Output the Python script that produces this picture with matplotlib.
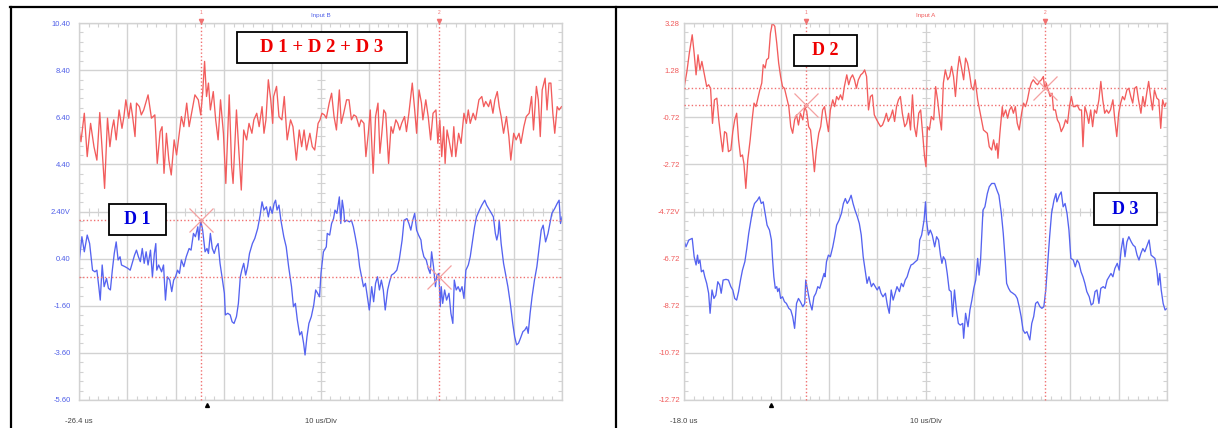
import numpy as np
import matplotlib
matplotlib.use('Agg')
import matplotlib.pyplot as plt
from matplotlib.patches import Rectangle
from matplotlib.lines import Line2D

W, H = 1218, 428

# ---------------- data (time in us, value in V) ----------------
# Left panel: Input B
sum_trace = [(-26.4,5.93),(-26.0,5.36),(-25.3,6.57),(-24.7,4.73),(-24.0,6.14),(-23.3,5.15),(-22.7,4.58),(-22.1,6.6),
    (-21.1,3.38),(-20.5,6.36),(-20.0,5.15),(-19.6,5.86),(-19.2,6.29),(-18.7,5.44),(-18.1,6.71),(-17.5,5.93),(-17.1,6.43),
    (-16.7,7.14),(-16.1,6.36),(-15.7,7.0),(-15.3,6.43),(-14.8,5.58),(-14.5,7.0),(-13.9,6.85),(-13.5,6.5),(-13.0,6.71),
    (-12.1,7.35),(-11.4,6.36),(-10.7,6.5),(-10.2,4.44),(-9.6,5.79),(-9.2,6.0),(-8.8,4.02),(-8.3,5.72),(-7.8,4.58),
    (-7.3,3.95),(-6.7,5.44),(-6.2,4.8),(-5.2,6.43),(-4.7,6.0),(-4.1,7.0),(-3.6,6.0),(-3.1,6.57),(-2.4,7.35),(-1.7,7.14),
    (-1.2,6.5),(-0.8,7.42),(-0.4,8.77),(0.0,7.28),(0.4,7.85),(0.8,6.71),(1.4,7.49),(1.9,6.29),(2.4,5.44),(2.9,7.14),
    (3.5,5.72),(4.0,3.59),(4.7,7.35),(5.2,4.3),(5.5,3.59),(6.2,6.71),(6.6,5.29),(7.2,3.31),(7.7,5.86),(8.3,5.44),
    (8.8,6.14),(9.4,5.72),(9.8,6.29),(10.4,6.57),(10.9,6.0),(11.5,6.85),(11.9,5.72),(12.3,6.29),(12.8,7.99),(13.3,7.14),
    (13.7,6.14),(13.9,7.28),(14.5,7.71),(15.0,6.43),(15.6,6.29),(16.1,7.28),(16.7,5.44),(17.4,6.29),(17.9,6.0),
    (18.6,4.58),(19.2,5.86),(19.7,5.15),(20.2,5.86),(20.7,5.01),(21.4,5.72),(21.9,5.15),(22.4,5.01),(23.1,6.14),
    (23.5,6.29),(23.9,6.57),(24.4,6.5),(24.8,6.36),(25.4,7.0),(25.9,7.42),(26.4,6.43),(26.9,5.86),(27.5,7.56),
    (27.9,6.14),(28.4,6.57),(29.0,7.14),(29.5,7.14),(30.0,6.29),(30.5,6.5),(31.0,6.43),(31.6,6.0),(32.0,6.29),
    (32.6,6.14),(33.0,4.73),(33.5,5.72),(33.9,6.71),(34.5,4.02),(35.0,6.43),(35.5,7.0),(35.9,4.87),(36.3,5.72),
    (36.7,6.71),(37.1,6.57),(37.7,4.44),(38.2,6.0),(38.6,5.72),(39.2,6.29),(39.6,6.14),(40.0,5.86),(40.4,6.14),
    (41.0,6.43),(41.4,5.79),(41.9,6.57),(42.6,7.85),(43.1,6.71),(43.5,5.72),(44.0,7.56),(44.5,7.0),(44.8,6.29),
    (45.4,7.14),(45.9,6.43),(46.4,5.44),(46.9,6.57),(47.5,6.71),(47.9,5.29),(48.3,6.29),(48.7,4.73),(49.1,6.0),
    (49.4,4.44),(49.8,5.86),(50.2,5.44),(50.8,4.73),(51.2,6.0),(51.6,4.73),(52.2,5.72),(52.7,5.29),(53.3,6.57),
    (53.8,6.14),(54.2,6.71),(54.6,6.14),(55.2,6.57),(55.7,6.29),(56.4,7.14),(57.0,7.28),(57.4,6.85),(57.8,7.07),
    (58.4,6.85),(58.8,7.14),(59.3,6.57),(59.7,7.14),(60.2,7.49),(60.6,6.85),(61.0,6.43),(61.5,5.72),(62.1,6.43),
    (62.6,5.58),(63.0,4.58),(63.6,5.72),(64.1,5.44),(64.7,5.72),(65.1,5.29),(65.7,6.0),(66.2,6.43),(66.8,6.57),
    (67.3,7.28),(67.7,5.86),(68.3,7.71),(68.7,7.14),(69.1,5.58),(69.5,7.56),(70.1,8.06),(70.5,6.71),(70.9,7.85),
    (71.3,7.85),(71.7,6.57),(72.1,5.72),(72.6,6.85),(73.0,6.71),(73.5,6.85)]

d1_trace = [(-26.4,0.20),(-25.8,1.33),(-25.3,0.69),(-24.7,1.40),(-24.2,1.04),(-23.6,-0.09),(-23.1,-0.16),(-22.7,-0.09),
    (-22.3,-0.79),(-22.0,-1.36),(-21.6,0.13),(-21.2,-0.79),(-20.7,-0.44),(-20.3,-0.86),(-19.9,-0.93),(-19.5,-0.09),
    (-19.1,0.62),(-18.7,1.11),(-18.3,0.34),(-17.9,0.48),(-17.6,0.13),(-16.9,0.06),(-16.3,-0.01),(-15.8,-0.09),
    (-15.4,0.20),(-14.9,0.55),(-14.5,0.76),(-14.1,0.48),(-13.7,0.27),(-13.3,0.83),(-12.9,0.20),(-12.5,0.69),
    (-12.1,0.13),(-11.6,0.76),(-11.2,-0.37),(-10.8,0.62),(-10.5,1.04),(-10.3,-0.09),(-9.9,0.13),(-9.3,-0.16),
    (-8.9,0.13),(-8.5,-1.36),(-8.1,-0.37),(-7.6,-0.51),(-7.2,-1.0),(-6.8,-0.51),(-6.4,-0.37),(-6.0,-0.09),
    (-5.6,-0.23),(-5.2,0.34),(-4.7,0.06),(-4.2,0.48),(-3.6,0.83),(-3.2,0.76),(-2.7,1.47),(-2.3,1.33),(-1.8,1.75),
    (-1.6,1.19),(-1.2,2.03),(-0.8,1.61),(-0.3,0.69),(0.1,0.83),(0.4,0.62),(0.8,1.47),(1.2,0.83),(1.6,0.62),
    (2.0,0.90),(2.4,1.04),(2.8,0.20),(3.3,-0.51),(3.7,-1.07),(3.9,-1.99),(4.4,-1.92),(4.9,-1.99),(5.3,-2.28),
    (5.7,-2.35),(6.2,-2.06),(6.6,-1.50),(7.0,-0.37),(7.3,-0.09),(7.7,0.20),(8.1,-0.30),(8.5,0.06),(8.9,0.62),
    (9.5,1.04),(10.0,1.26),(10.6,1.68),(11.1,2.24),(11.5,2.81),(11.9,2.46),(12.4,2.60),(12.8,2.17),(13.2,2.60),
    (13.6,2.32),(14.0,2.74),(14.3,2.88),(14.6,2.46),(15.0,2.67),(15.4,2.03),(16.0,1.33),(16.5,0.90),(17.0,0.06),
    (17.6,-0.79),(18.0,-1.64),(18.4,-1.50),(18.8,-2.20),(19.3,-2.84),(19.7,-2.70),(20.1,-3.19),(20.4,-3.69),
    (20.8,-2.91),(21.2,-2.35),(21.7,-2.06),(22.2,-1.57),(22.6,-0.93),(23.0,-1.07),(23.4,-1.22),(23.7,-0.23),
    (24.2,0.69),(24.8,0.90),(25.0,1.47),(25.5,1.40),(25.9,1.89),(26.3,2.10),(26.6,2.46),(27.0,2.32),(27.3,2.74),
    (27.5,3.02),(27.8,1.89),(28.1,2.88),(28.4,2.46),(28.6,1.96),(29.0,2.03),(29.6,1.96),(30.0,2.03),(30.4,1.75),
    (30.8,1.33),(31.3,0.76),(31.7,0.06),(32.1,-0.37),(32.5,-0.79),(32.9,-0.65),(33.3,-1.22),(33.7,-1.78),
    (34.2,-0.79),(34.6,-1.43),(35.0,-0.65),(35.4,-0.37),(35.8,-0.93),(36.2,-0.51),(36.6,-0.93),(37.0,-1.78),
    (37.5,-0.93),(37.9,-0.58),(38.3,-0.30),(38.8,-0.23),(39.4,-0.09),(39.9,0.34),(40.5,1.19),(40.9,2.03),
    (41.5,2.10),(41.9,1.89),(42.3,1.61),(42.7,2.03),(43.1,2.32),(43.5,1.61),(43.9,1.40),(44.4,1.19),(44.6,0.83),
    (45.0,0.48),(45.5,0.34),(45.9,-0.01),(46.3,-0.23),(46.6,0.69),(47.0,0.06),(47.4,-0.79),(47.7,-0.30),
    (48.1,-0.23),(48.4,-1.64),(48.6,-0.79),(48.9,-1.50),(49.3,-0.93),(49.7,-1.36),(50.2,-1.07),(50.6,-1.92),
    (51.0,-2.35),(51.3,-0.51),(51.7,-0.93),(52.1,-0.79),(52.5,-1.00),(52.9,-0.79),(53.3,-1.29),(53.7,-0.09),
    (54.2,0.13),(54.6,0.48),(55.1,1.19),(55.5,1.75),(55.9,2.17),(56.5,2.46),(57.0,2.67),(57.6,2.88),(58.0,2.67),
    (58.4,2.53),(59.0,2.32),(59.4,2.17),(59.8,1.47),(60.1,1.19),(60.4,1.47),(60.6,2.03),(61.0,1.04),(61.5,0.20),
    (61.9,-0.23),(62.4,-0.79),(62.9,-1.50),(63.4,-2.35),(63.8,-2.91),(64.2,-3.26),(64.6,-3.19),(65.0,-2.98),
    (65.5,-2.70),(65.9,-2.63),(66.3,-2.49),(66.6,-2.77),(67.0,-1.92),(67.4,-1.22),(67.9,-0.51),(68.4,0.06),
    (68.8,0.76),(69.3,1.61),(69.7,1.82),(70.2,1.11),(70.7,1.47),(71.1,1.89),(71.5,2.32),(72.1,2.53),(72.6,2.74),
    (73.0,2.88),(73.3,1.89),(73.6,2.17)]

# Right panel: Input A
d2_trace = [(-18.0,0.51),(-17.4,1.22),(-16.9,2.0),(-16.3,2.78),(-15.9,2.0),(-15.5,1.08),(-15.1,1.93),(-14.7,1.29),
    (-14.3,1.65),(-13.9,1.22),(-13.3,0.58),(-12.9,0.66),(-12.5,0.51),(-12.1,-0.98),(-11.7,0.02),(-11.2,0.09),
    (-10.8,-0.83),(-10.4,-1.54),(-10.0,-2.18),(-9.6,-1.33),(-9.2,-1.40),(-8.8,-2.18),(-8.3,-2.11),(-7.9,-1.33),
    (-7.5,-0.83),(-7.1,-0.55),(-6.7,-1.68),(-6.3,-2.39),(-5.9,-2.32),(-5.6,-2.68),(-5.2,-3.74),(-4.8,-2.54),
    (-4.3,-1.68),(-3.9,-0.83),(-3.5,-0.12),(-3.1,-0.27),(-2.7,0.09),(-2.3,0.44),(-1.9,0.73),(-1.6,1.51),(-1.2,1.37),
    (-0.9,1.72),(-0.5,1.79),(-0.1,2.85),(0.3,3.28),(0.8,3.14),(1.2,2.43),(1.6,1.58),(2.0,1.01),(2.4,0.58),(2.8,0.51),
    (3.2,0.16),(3.7,-0.27),(4.1,-1.12),(4.5,-1.40),(4.9,-0.83),(5.3,-0.62),(5.7,-1.05),(6.1,-0.55),(6.6,-0.83),
    (7.0,-0.27),(7.4,-0.48),(7.8,-1.12),(8.2,-1.26),(8.6,-2.11),(9.0,-3.03),(9.4,-2.11),(9.9,-1.40),(10.3,-1.12),
    (10.7,-0.41),(11.1,-0.27),(11.5,-0.83),(11.9,-1.33),(12.3,-0.41),(12.8,0.02),(13.2,-0.27),(13.6,0.16),
    (14.0,0.02),(14.4,0.23),(14.8,0.02),(15.2,0.58),(15.7,1.08),(16.1,0.66),(16.5,0.94),(16.9,1.08),(17.3,0.87),
    (17.7,0.51),(18.1,0.87),(18.6,1.08),(19.0,1.15),(19.4,1.29),(19.8,1.01),(20.2,-0.41),(20.6,0.16),(21.0,0.23),
    (21.4,-0.62),(21.9,-0.83),(22.3,-0.98),(22.7,-1.12),(23.1,-1.05),(23.5,-0.83),(23.9,-0.55),(24.3,-0.90),
    (24.8,-0.69),(25.2,-0.41),(25.6,-0.90),(26.0,-0.27),(26.4,0.02),(26.8,0.16),(27.2,-0.55),(27.7,-1.12),
    (28.1,-0.98),(28.5,-0.55),(28.9,-1.26),(29.3,0.23),(29.7,-1.12),(30.1,-1.54),(30.6,-0.55),(31.0,-0.41),
    (31.4,-1.40),(31.8,-2.39),(32.1,-2.82),(32.4,-1.12),(32.8,-1.26),(33.2,-0.69),(33.7,-0.83),(34.1,0.58),
    (34.5,0.02),(34.9,-0.69),(35.3,-1.26),(35.7,0.73),(36.1,1.29),(36.6,0.87),(37.0,1.01),(37.4,1.44),(37.8,1.01),
    (38.2,0.16),(38.6,1.22),(39.0,1.86),(39.4,1.44),(39.9,0.87),(40.3,1.79),(40.7,1.58),(41.1,1.15),(41.5,0.58),
    (41.9,0.44),(42.3,0.87),(42.8,0.02),(43.2,-0.41),(43.6,-0.83),(44.0,-1.26),(44.4,-1.33),(44.8,-1.40),
    (45.2,-1.97),(45.7,-2.11),(46.1,-1.68),(46.5,-2.11),(46.8,-1.83),(47.0,-2.46),(47.4,-1.40),(47.9,-0.27),
    (48.1,-0.69),(48.6,-0.41),(49.0,-0.76),(49.4,-0.41),(49.8,-0.27),(50.2,-0.55),(50.6,-0.27),(51.0,-0.98),
    (51.4,-1.26),(51.9,-0.55),(52.3,-0.12),(52.7,-0.27),(53.1,0.02),(53.5,0.44),(53.9,0.73),(54.3,0.87),
    (54.8,0.73),(55.2,0.66),(55.6,0.80),(56.0,0.87),(56.4,1.01),(56.7,0.44),(57.0,0.73),(57.4,0.44),(57.8,0.16),
    (58.2,0.30),(58.5,-0.41),(58.9,-0.41),(59.3,-0.83),(59.7,-0.98),(60.1,-1.33),(60.6,-1.12),(61.0,-0.83),
    (61.4,-0.98),(61.8,-0.27),(62.2,0.16),(62.6,-0.27),(63.0,-0.27),(63.4,-0.20),(63.9,-0.41),(64.3,-0.41),
    (64.6,-1.97),(65.0,-0.27),(65.4,-0.55),(65.8,-0.98),(66.2,-0.41),(66.6,-1.12),(67.0,-0.41),(67.4,-0.55),
    (67.9,0.02),(68.3,0.80),(68.7,0.02),(69.1,-0.55),(69.5,-0.41),(69.9,-0.55),(70.3,-0.41),(70.8,0.02),
    (71.2,-0.83),(71.6,-1.54),(72.0,-0.55),(72.4,-0.12),(72.8,0.16),(73.2,0.02),(73.7,0.44),(74.1,0.51),
    (74.5,0.16),(74.9,-0.12),(75.3,0.51),(75.7,0.58),(76.1,0.02),(76.6,-0.55),(77.0,0.16),(77.4,-0.27),
    (77.8,0.30),(78.2,0.80),(78.6,0.16),(79.0,-0.41),(79.4,0.44),(79.9,0.09),(80.3,0.02),(80.7,-1.19),
    (81.1,0.02),(81.5,-0.27),(81.8,-0.12)]

d3_trace = [(-18.0,-5.93),(-17.6,-6.22),(-17.0,-5.93),(-16.3,-5.86),(-15.9,-6.64),(-15.5,-6.99),(-15.2,-6.57),
    (-15.0,-6.92),(-14.7,-6.78),(-14.4,-7.28),(-14.0,-7.21),(-13.7,-7.49),(-13.3,-7.77),(-12.9,-8.19),(-12.6,-9.04),
    (-12.2,-8.05),(-11.8,-8.41),(-11.4,-8.27),(-11.0,-7.70),(-10.6,-7.84),(-10.3,-8.19),(-9.9,-7.63),(-9.3,-7.60),
    (-8.8,-7.63),(-8.3,-7.91),(-7.9,-8.05),(-7.5,-8.41),(-7.1,-8.48),(-6.7,-8.12),(-6.3,-7.63),(-5.9,-7.21),
    (-5.4,-6.85),(-5.0,-6.29),(-4.6,-5.65),(-4.2,-5.16),(-3.8,-4.66),(-3.4,-4.38),(-2.8,-4.24),(-2.4,-4.10),
    (-2.0,-4.38),(-1.6,-4.31),(-1.2,-4.80),(-0.8,-5.30),(-0.3,-5.51),(0.1,-5.93),(0.3,-6.64),(0.6,-7.49),
    (0.9,-7.98),(1.2,-7.91),(1.4,-8.12),(1.7,-7.98),(2.0,-8.41),(2.4,-8.34),(2.8,-8.55),(3.2,-8.62),(3.7,-8.83),
    (4.1,-8.90),(4.5,-9.18),(4.9,-9.68),(5.3,-8.62),(5.7,-8.41),(6.1,-8.55),(6.6,-8.76),(7.0,-8.62),(7.2,-7.63),
    (7.7,-8.19),(8.1,-8.62),(8.5,-8.90),(8.9,-8.34),(9.3,-8.19),(9.7,-7.91),(10.1,-7.98),(10.6,-7.63),(11.0,-7.35),
    (11.2,-7.49),(11.5,-6.85),(11.9,-6.57),(12.3,-6.64),(12.8,-6.22),(13.2,-5.79),(13.6,-5.30),(14.1,-5.09),
    (14.6,-4.80),(15.0,-4.38),(15.4,-4.17),(15.8,-4.38),(16.2,-4.24),(16.6,-4.03),(17.0,-4.38),(17.4,-4.66),
    (17.9,-4.95),(18.3,-5.23),(18.7,-5.72),(19.1,-6.64),(19.5,-7.21),(19.9,-7.77),(20.3,-7.49),(20.8,-7.91),
    (21.2,-7.77),(21.6,-7.91),(22.0,-8.05),(22.4,-7.91),(22.8,-8.19),(23.2,-8.34),(23.7,-8.19),(24.1,-8.69),
    (24.5,-9.04),(24.9,-8.05),(25.3,-8.48),(25.7,-8.19),(26.1,-7.91),(26.6,-8.12),(27.0,-7.77),(27.4,-7.91),
    (27.8,-7.63),(28.2,-7.49),(28.6,-7.21),(29.0,-6.99),(29.4,-6.95),(29.9,-6.85),(30.3,-6.78),(30.6,-6.50),
    (30.8,-5.93),(31.2,-5.72),(31.7,-5.09),(32.0,-4.31),(32.2,-5.09),(32.6,-5.72),(33.0,-5.51),(33.4,-5.72),
    (33.9,-6.22),(34.3,-5.79),(34.7,-5.93),(35.1,-6.57),(35.4,-6.92),(35.7,-6.64),(36.1,-6.78),(36.5,-7.35),
    (36.9,-8.05),(37.3,-8.12),(37.6,-9.18),(38.0,-8.05),(38.4,-8.90),(38.8,-9.47),(39.2,-9.54),(39.7,-9.47),
    (39.9,-10.10),(40.3,-9.04),(40.8,-9.61),(41.2,-8.90),(41.6,-8.48),(42.0,-7.98),(42.4,-7.63),(42.8,-6.71),
    (43.1,-7.42),(43.4,-6.78),(43.7,-5.51),(43.9,-4.66),(44.3,-4.52),(44.8,-3.96),(45.2,-3.67),(45.7,-3.53),
    (46.3,-3.53),(46.8,-3.82),(47.2,-4.03),(47.7,-4.80),(48.1,-5.65),(48.5,-6.78),(48.8,-7.77),(49.2,-7.98),
    (49.6,-8.12),(50.1,-8.19),(50.6,-8.27),(51.0,-8.41),(51.4,-8.76),(51.8,-9.18),(52.2,-9.75),(52.6,-9.89),
    (53.0,-9.82),(53.6,-10.17),(54.0,-9.47),(54.4,-9.18),(54.8,-8.62),(55.2,-8.55),(55.7,-8.76),(56.1,-8.83),
    (56.5,-8.76),(56.9,-8.05),(57.3,-6.92),(57.7,-5.79),(58.1,-4.80),(58.6,-4.24),(59.0,-3.96),(59.2,-4.31),
    (59.7,-4.03),(60.1,-3.89),(60.5,-4.52),(60.9,-4.38),(61.3,-4.80),(61.7,-5.51),(62.1,-6.71),(62.6,-6.78),
    (63.0,-7.07),(63.4,-6.78),(63.8,-6.92),(64.2,-7.28),(64.6,-7.49),(65.0,-7.77),(65.4,-8.12),(65.9,-8.34),
    (66.3,-8.69),(66.7,-8.62),(67.1,-8.12),(67.5,-8.05),(67.9,-8.62),(68.3,-7.98),(68.8,-7.91),(69.2,-7.98),
    (69.6,-7.63),(70.0,-7.49),(70.4,-7.35),(70.8,-7.49),(71.2,-7.14),(71.7,-6.92),(72.1,-7.21),(72.5,-6.36),
    (72.9,-5.86),(73.3,-6.64),(73.7,-6.01),(74.1,-5.79),(74.6,-6.01),(75.0,-6.15),(75.4,-6.22),(75.8,-6.57),
    (76.2,-6.78),(76.6,-6.50),(77.0,-6.29),(77.4,-6.43),(77.9,-6.15),(78.3,-5.93),(78.7,-6.57),(79.1,-6.64),
    (79.5,-6.71),(79.9,-7.21),(80.2,-7.84),(80.5,-7.35),(80.8,-8.05),(81.2,-8.62),(81.6,-8.90),(82.0,-8.83)]

# axis settings / labels
left_xlim = (-26.4, 73.6)
left_ylim = (-5.60, 10.40)
right_xlim = (-18.0, 82.0)
right_ylim = (-12.72, 3.28)
left_ytick_labels = ['-5.60', '-3.60', '-1.60', '0.40', '2.40V', '4.40', '6.40', '8.40', '10.40']
right_ytick_labels = ['-12.72', '-10.72', '-8.72', '-6.72', '-4.72V', '-2.72', '-0.72', '1.28', '3.28']
left_xtick_labels = ['-26.4 us', '', '', '', '', '10 us/Div', '', '', '', '', '']
right_xtick_labels = ['-18.0 us', '', '', '', '', '10 us/Div', '', '', '', '', '']

# cursors
left_cursor_t = [-1.2, 48.2]
left_cursor_v = [2.03, -0.37]
right_cursor_t = [7.3, 56.7]
right_cursor_v = [-0.20, 0.52]
trigger_t = 0.0

# ---------------- style ----------------
GRID = '#d2d2d2'
RED = '#f25c5c'
BLUE = '#5563f0'
CUR = '#f07070'
XMARK = '#f4a0a0'
LBLUE = '#4f5fe8'
LRED = '#f05a5a'

plt.rcParams['font.family'] = ['Liberation Sans', 'DejaVu Sans']

fig = plt.figure(figsize=(W / 100, H / 100), dpi=100)
fig.patch.set_facecolor('white')


def fx(px):
    return px / W


def fy(py):
    return 1 - py / H


def make_axes(x0, x1, y0, y1):
    return fig.add_axes([fx(x0), fy(y1), (x1 - x0) / W, (y1 - y0) / H])


def style_panel(ax, xlim, ylim, ylabels, xlabels, lab_color, ypad):
    ax.set_xlim(*xlim)
    ax.set_ylim(*ylim)
    gx = np.linspace(xlim[0], xlim[1], 11)
    gy = np.linspace(ylim[0], ylim[1], 9)
    mx = np.linspace(xlim[0], xlim[1], 51)
    my = np.linspace(ylim[0], ylim[1], 41)
    ax.set_xticks(gx)
    ax.set_xticklabels(xlabels)
    ax.set_yticks(gy)
    ax.set_yticklabels(ylabels)
    ax.set_xticks(mx, minor=True)
    ax.set_yticks(my, minor=True)
    ax.set_axisbelow(True)
    ax.grid(True, which='major', color=GRID, lw=1.0)
    ax.tick_params(which='major', length=0)
    ax.tick_params(axis='y', which='major', labelsize=5.5, labelcolor=lab_color, pad=ypad)
    ax.tick_params(axis='x', which='major', labelsize=5.5, labelcolor='#444444', pad=13)
    ax.tick_params(which='minor', direction='in', length=3, width=0.8, color=GRID,
                   top=True, right=True, bottom=True, left=True)
    for s in ax.spines.values():
        s.set_color(GRID)
        s.set_linewidth(1.0)
    cx = 0.5 * (xlim[0] + xlim[1])
    cy = 0.5 * (ylim[0] + ylim[1])
    ax.plot(mx, np.full_like(mx, cy), ls='none', marker='|', ms=5.5, mew=0.8, color=GRID, zorder=1)
    ax.plot(np.full_like(my, cx), my, ls='none', marker='_', ms=5.5, mew=0.8, color=GRID, zorder=1)


def cursors(ax, ts, vs):
    for i, t in enumerate(ts):
        ax.axvline(t, ymin=0, ymax=1.008, clip_on=False, color=CUR, lw=1.0, ls=(0, (1, 1.6)), zorder=3)
        ax.plot([t], [1.006], transform=ax.get_xaxis_transform(), marker='v', ms=3, color=CUR,
                clip_on=False, zorder=5)
        ax.text(t, 1.022, str(i + 1), transform=ax.get_xaxis_transform(), fontsize=3.5,
                color=CUR, ha='center', va='bottom', clip_on=False)
    for v in vs:
        ax.axhline(v, color=CUR, lw=1.0, ls=(0, (1, 1.6)), zorder=3)
    ax.plot(ts, vs, ls='none', marker='x', ms=17, mew=0.9, color=XMARK, zorder=4)


def trigger(ax, t):
    ax.plot([t], [-0.012], transform=ax.get_xaxis_transform(), marker='^', ms=2.8, color='black',
            clip_on=False, zorder=5)


# ---------------- left panel ----------------
axL = make_axes(79, 562, 23, 400)
style_panel(axL, left_xlim, left_ylim, left_ytick_labels, left_xtick_labels, LBLUE, 6)
t, v = zip(*sum_trace)
axL.plot(t, v, color=RED, lw=0.95, zorder=2)
t, v = zip(*d1_trace)
axL.plot(t, v, color=BLUE, lw=0.95, zorder=2)
cursors(axL, left_cursor_t, left_cursor_v)
trigger(axL, trigger_t)

# ---------------- right panel ----------------
axR = make_axes(684, 1167, 23, 400)
style_panel(axR, right_xlim, right_ylim, right_ytick_labels, right_xtick_labels, LRED, 3)
t, v = zip(*d2_trace)
axR.plot(t, v, color=RED, lw=0.95, zorder=2)
t, v = zip(*d3_trace)
axR.plot(t, v, color=BLUE, lw=0.95, zorder=2)
cursors(axR, right_cursor_t, right_cursor_v)
trigger(axR, trigger_t)

# channel titles
fig.text(fx(320.5), fy(15), 'Input B', fontsize=4.5, color=LBLUE, ha='center', va='center')
fig.text(fx(925.5), fy(15), 'Input A', fontsize=4.5, color=LRED, ha='center', va='center')

# ---------------- annotation boxes ----------------
def label_box(x0, x1, y0, y1, text, color, size):
    rect = Rectangle((fx(x0), fy(y1)), (x1 - x0) / W, (y1 - y0) / H, transform=fig.transFigure,
                     facecolor='white', edgecolor='black', lw=1.3, zorder=10)
    fig.add_artist(rect)
    fig.text(fx((x0 + x1) / 2), fy((y0 + y1) / 2), text, fontsize=size, color=color,
             family='Liberation Serif', weight='bold', ha='center', va='center', zorder=11)


label_box(237, 407, 32, 63, 'D 1 + D 2 + D 3', '#ee0000', 13.5)
label_box(109, 166, 204, 235, 'D 1', '#0000dd', 13)
label_box(794, 857, 35, 66, 'D 2', '#ee0000', 13)
label_box(1094, 1157, 193, 225, 'D 3', '#0000dd', 13)

# ---------------- outer table frame ----------------
for (xa, ya, xb, yb) in [(10, 7, 1218, 7), (11, 7, 11, 428), (616, 7, 616, 428)]:
    fig.add_artist(Line2D([fx(xa), fx(xb)], [fy(ya), fy(yb)], transform=fig.transFigure,
                          color='black', lw=1.6))

fig.savefig('out.png', dpi=100, facecolor='white')
